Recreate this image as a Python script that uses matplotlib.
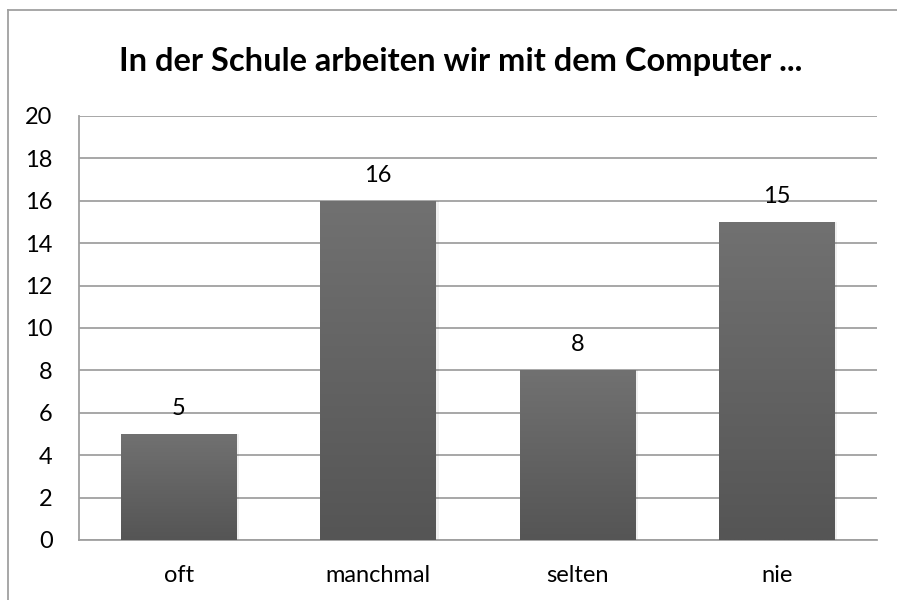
import numpy as np
import matplotlib
matplotlib.use("Agg")
import matplotlib.pyplot as plt
from matplotlib.lines import Line2D

categories = ["oft", "manchmal", "selten", "nie"]
values = [5, 16, 8, 15]
title = "In der Schule arbeiten wir mit dem Computer ..."

plt.rcParams['font.family'] = ['Lato', 'DejaVu Sans']

fig = plt.figure(figsize=(8.97, 6.0), dpi=100)
ax = fig.add_axes([0.0881, 0.1, 0.8896, 0.7067])

x = np.arange(len(categories))
width = 0.58
grid_col = "#a0a0a0"

# vertical gradient for the bars (light at top, darker at bottom)
grad = np.linspace(0, 1, 256).reshape(-1, 1)
cmap = matplotlib.colors.LinearSegmentedColormap.from_list("g", ["#717171", "#555555"])

for xi, v in zip(x, values):
    # faint shadow
    ax.bar(xi + 0.012, v, width, color="#000000", alpha=0.06, zorder=2, linewidth=0)
    bar = ax.bar(xi, v, width, color="none", zorder=3, linewidth=0)[0]
    im = ax.imshow(grad, cmap=cmap, aspect="auto", zorder=3, origin="upper",
                   extent=[xi - width / 2, xi + width / 2, 0, v])
    im.set_clip_path(bar)
    ax.text(xi, v + 1.2, str(v), ha="center", va="center", fontsize=17, color="#000000", zorder=4)

ax.set_xlim(-0.5, len(categories) - 0.5)
ax.set_ylim(0, 20)
ax.set_yticks(range(0, 21, 2))
ax.set_xticks(x)
ax.set_xticklabels(categories)
ax.tick_params(axis="both", length=0, labelsize=17, colors="#000000")
ax.tick_params(axis="y", pad=19)
ax.tick_params(axis="x", pad=18)

ax.yaxis.grid(True, color=grid_col, linewidth=1.3, zorder=1)
ax.set_axisbelow(True)
for s in ["top", "right"]:
    ax.spines[s].set_visible(False)
ax.spines["left"].set_color(grid_col)
ax.spines["left"].set_linewidth(1.3)
ax.spines["bottom"].set_color(grid_col)
ax.spines["bottom"].set_linewidth(1.3)

fig.text(0.514, 0.897, title, ha="center", va="center", fontsize=23.5, fontweight="bold")

# outer chart frame (only left and top edges visible in the picture)
fig.add_artist(Line2D([8 / 897, 8 / 897], [0, 1 - 10 / 600], color=grid_col, lw=1.3, transform=fig.transFigure))
fig.add_artist(Line2D([8 / 897, 1], [1 - 10 / 600, 1 - 10 / 600], color=grid_col, lw=1.3, transform=fig.transFigure))

fig.savefig("out.png", dpi=100)
